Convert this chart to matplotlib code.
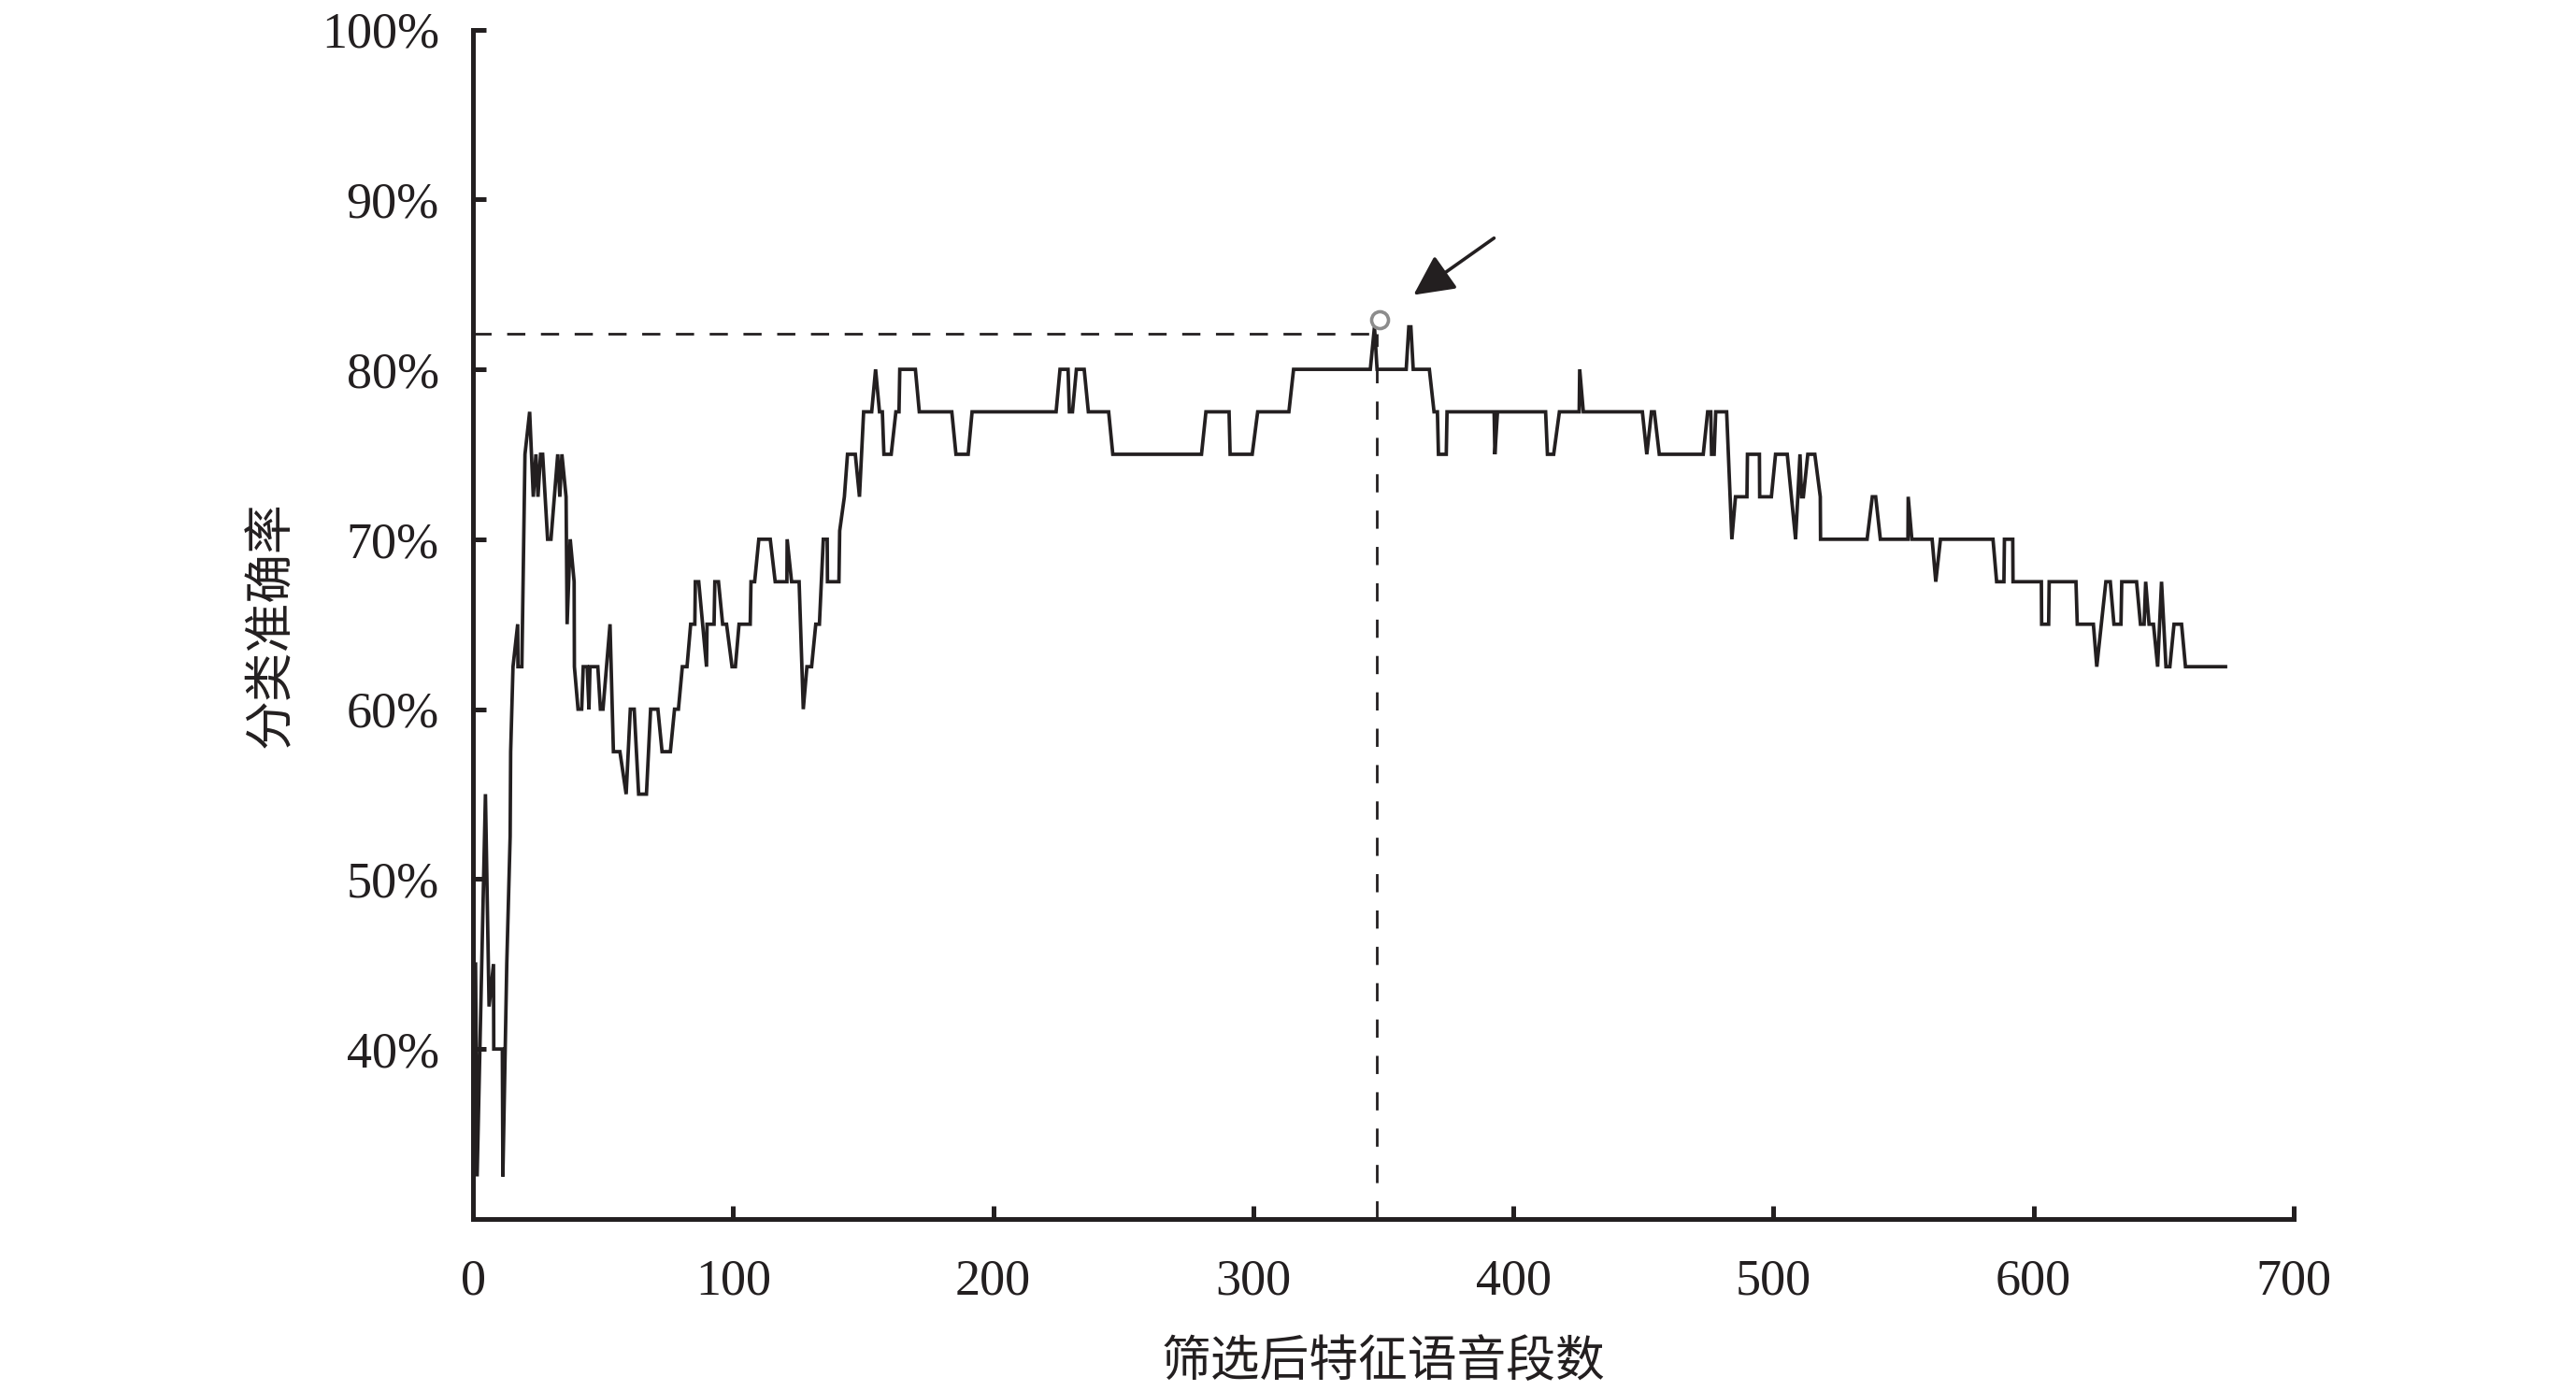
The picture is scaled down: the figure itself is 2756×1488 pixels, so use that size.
import matplotlib
matplotlib.use("Agg")
import matplotlib.pyplot as plt

# Vertices of the accuracy curve (segments count, accuracy %)
segmentos = [1, 1.6, 4.8, 6.2, 7.9, 8.0, 11.3, 11.5, 13, 14.3, 14.5, 15.4, 17.2, 17.3, 18.8,
             20, 21.8, 23.2, 24.2, 25, 26, 26.8, 28.7, 30, 32.6, 33.4, 34.2, 35.8, 36.2, 37.4,
             38.9, 39, 40.4, 41.8, 42.4, 43.9, 44.6, 45, 48, 49, 50, 52.7, 54, 56.5, 58.9,
             60.5, 62, 63.7, 66.7, 68.3, 71.1, 72.7, 75.9, 77.5, 79, 80.5, 82.3, 83.7, 85.3,
             85.5, 86.8, 89.8, 90, 92.7, 93, 94.4, 96, 97.5, 99.6, 100.9, 102.3, 106.6, 106.9,
             108.3, 109.9, 114.3, 116.2, 120.7, 120.8, 122.5, 125.4, 127, 128.4, 130.2, 131.8,
             133.2, 134.7, 136.2, 136.3, 140.7, 141, 142.8, 144, 147, 148.6, 150.2, 153.3,
             154.8, 156.3, 157.4, 158, 160.8, 162.6, 163.8, 164.1, 170.1, 171.6, 184.1, 185.7,
             190.4, 191.9, 224.2, 225.7, 228.8, 229.3, 230.5, 232, 235, 236.6, 244.4, 246,
             280.1, 281.8, 290.7, 291.1, 299.6, 301.7, 313.7, 315.5, 345, 346.6, 347.6, 358.8,
             359.8, 360.6, 361.5, 367.7, 369.5, 370.8, 371.2, 374.2, 374.5, 392.6, 392.9,
             393.9, 412.4, 413.1, 415.5, 417.7, 425.3, 425.5, 426.9, 449.6, 451.3, 453.1,
             454.2, 456.1, 473, 474.7, 475.9, 476.2, 477.2, 477.8, 482, 484, 485.4, 489.8,
             490, 494.6, 494.7, 499.2, 500.8, 505.3, 508.5, 510.2, 510.8, 511.5, 513.2, 515.9,
             518, 518.1, 536, 538, 539.3, 541.1, 551.7, 551.8, 553.2, 561, 562.4, 564.2,
             584.4, 585.8, 588.6, 588.8, 592, 592.1, 603, 603.1, 605.8, 606, 616.3, 616.8,
             623, 624.3, 627.8, 629.5, 630.9, 633.6, 633.9, 639.6, 641.1, 642.5, 643.1, 644.4,
             646.1, 647.7, 649.2, 650.9, 652.4, 654, 656.9, 658.4, 673.8]
precision = [45, 32.5, 55, 42.5, 45, 40, 40, 32.5, 45, 52.5, 57.5, 62.5, 65, 62.5, 62.5,
             75, 77.5, 72.5, 75, 72.5, 75, 75, 70, 70, 75, 72.5, 75, 72.5, 65, 70,
             67.5, 62.5, 60, 60, 62.5, 62.5, 60, 62.5, 62.5, 60, 60, 65, 57.5, 57.5, 55,
             60, 60, 55, 55, 60, 60, 57.5, 57.5, 60, 60, 62.5, 62.5, 65, 65,
             67.5, 67.5, 62.5, 65, 65, 67.5, 67.5, 65, 65, 62.5, 62.5, 65, 65, 67.5,
             67.5, 70, 70, 67.5, 67.5, 70, 67.5, 67.5, 60, 62.5, 62.5, 65,
             65, 70, 70, 67.5, 67.5, 70.5, 72.5, 75, 75, 72.5, 77.5, 77.5,
             80, 77.5, 77.5, 75, 75, 77.5, 77.5, 80, 80, 77.5, 77.5, 75,
             75, 77.5, 77.5, 80, 80, 77.5, 77.5, 80, 80, 77.5, 77.5, 75,
             75, 77.5, 77.5, 75, 75, 77.5, 77.5, 80, 80, 82.5, 80, 80,
             82.5, 82.5, 80, 80, 77.5, 77.5, 75, 75, 77.5, 77.5, 75,
             77.5, 77.5, 75, 75, 77.5, 77.5, 80, 77.5, 77.5, 75, 77.5,
             77.5, 75, 75, 77.5, 77.5, 75, 75, 77.5, 77.5, 70, 72.5, 72.5,
             75, 75, 72.5, 72.5, 75, 75, 70, 75, 72.5, 72.5, 75, 75,
             72.5, 70, 70, 72.5, 72.5, 70, 70, 72.5, 70, 70, 67.5, 70,
             70, 67.5, 67.5, 70, 70, 67.5, 67.5, 65, 65, 67.5, 67.5, 65,
             65, 62.5, 67.5, 67.5, 65, 65, 67.5, 67.5, 65, 65, 67.5, 65,
             65, 62.5, 67.5, 62.5, 62.5, 65, 65, 62.5, 62.5]

# Marked optimum
x_optimo = 347.6
y_optimo = 82.1
x_ticks = [0, 100, 200, 300, 400, 500, 600, 700]
y_ticks = [40, 50, 60, 70, 80, 90, 100]

serif = ['Liberation Serif', 'DejaVu Serif']
cjk = ['Noto Sans CJK SC', 'DejaVu Sans']
negro = '#231f20'

fig = plt.figure(figsize=(13.78, 7.44), dpi=200)
ax = fig.add_axes([0.1836, 0.1237, 0.7068, 0.8551])

ax.plot(segmentos, precision, color=negro, lw=1.35, solid_joinstyle='miter')

# lineas discontinuas hacia el maximo
ax.plot([0, x_optimo], [y_optimo, y_optimo], color=negro, lw=1.0, dashes=(7, 6))
ax.plot([x_optimo, x_optimo], [30, y_optimo], color=negro, lw=1.0, dashes=(7, 7))
ax.plot([x_optimo + 1.0], [y_optimo + 0.8], marker='o', ms=6.5, mfc='none', mec='#8c8c8c', mew=1.3)

ax.annotate('', xy=(360, 84.2), xytext=(394.2, 87.9),
            arrowprops=dict(arrowstyle='-|>,head_length=0.6,head_width=0.3',
                            color=negro, lw=1.3, mutation_scale=22))

ax.set_xlim(0, 700)
ax.set_ylim(30, 100)
ax.set_xticks(x_ticks)
ax.set_xticklabels([str(v) for v in x_ticks], family=serif, fontsize=19.5)
ax.set_yticks(y_ticks)
ax.set_yticklabels([f'{v}%' for v in y_ticks], family=serif, fontsize=19.5)
ax.tick_params(direction='in', length=5, width=1.8, colors=negro)
ax.tick_params(axis='x', pad=15)
ax.tick_params(axis='y', pad=13)

for lado in ['top', 'right']:
    ax.spines[lado].set_visible(False)
for lado in ['left', 'bottom']:
    ax.spines[lado].set_linewidth(1.8)
    ax.spines[lado].set_color(negro)

ax.set_xlabel('筛选后特征语音段数', family=cjk, fontsize=19, color=negro, va='center')
ax.set_ylabel('分类准确率', family=cjk, fontsize=19, color=negro, va='center')
ax.xaxis.set_label_coords(0.5, -0.12)
ax.yaxis.set_label_coords(-0.111, 0.5)

fig.savefig('out.png', dpi=200)
